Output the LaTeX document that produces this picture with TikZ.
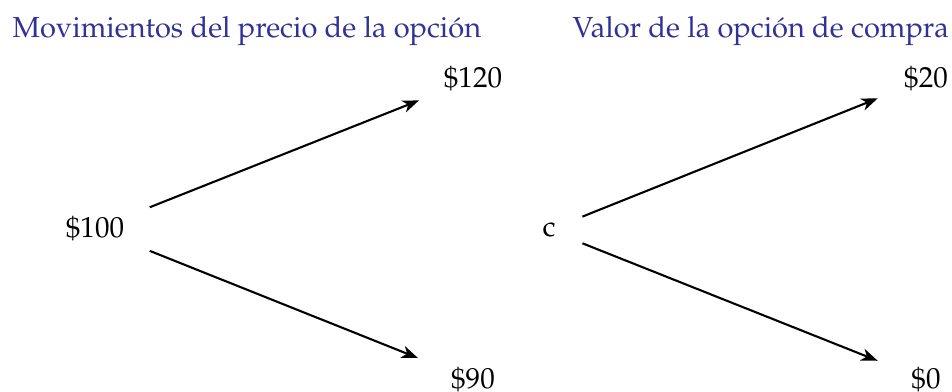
\documentclass[tikz,border=0pt]{standalone}
\usepackage[T1]{fontenc}
\usepackage{mathpazo}
\usetikzlibrary{arrows.meta}
\definecolor{titleblue}{RGB}{50,50,150}
\begin{document}
\begin{tikzpicture}[x=0.3444pt,y=-0.3444pt,
  title/.style={anchor=base west,inner sep=0pt,text=titleblue},
  val/.style={inner sep=0pt},
  arr/.style={-{Stealth[length=5.7pt,width=4.3pt,inset=1.7pt]},line width=0.72pt}]
\useasboundingbox (0,0) rectangle (952,392);
\node[title] (t1) at (12,38) {Movimientos del precio de la opci\'on};
\node[title] (t2) at (572,38) {Valor de la opci\'on de compra};
\node[val] (a) at (95,229) {\$100};
\node[val] (b) at (473,79) {\$120};
\node[val] (d) at (473,380) {\$90};
\node[val] (c) at (549,230) {c};
\node[val] (e) at (926,79) {\$20};
\node[val] (f) at (926,380) {\$0};
\draw[arr,shorten <=20.3pt,shorten >=20pt] (a.center) -- (b.center);
\draw[arr,shorten <=20.3pt,shorten >=20.4pt] (a.center) -- (d.center);
\draw[arr,shorten <=12.4pt,shorten >=17.9pt] (c.center) -- (e.center);
\draw[arr,shorten <=12.4pt,shorten >=17.9pt] (c.center) -- (f.center);
\end{tikzpicture}
\end{document}
